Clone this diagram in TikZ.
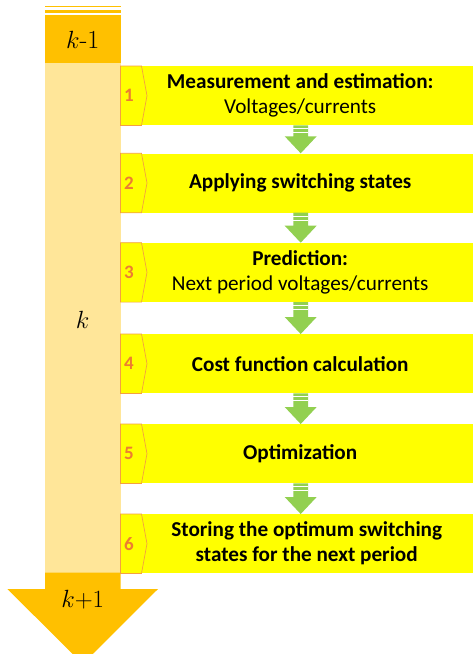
\documentclass[tikz,border=0pt]{standalone}
\usepackage{fontspec}
\setmainfont{Carlito}
\usetikzlibrary{calc}
\definecolor{kOrange}{HTML}{FFC000}
\definecolor{kLight}{HTML}{FFE699}
\definecolor{boxYellow}{HTML}{FFFF00}
\definecolor{numOrange}{HTML}{ED7D31}
\definecolor{chevLine}{HTML}{F4A040}
\definecolor{arrowGreen}{HTML}{92D050}
\newcommand{\lmtext}[1]{{\fontfamily{lmr}\selectfont #1}}
\tikzset{
  stepbox/.style={fill=boxYellow, draw=none, minimum width=352pt, minimum height=59pt, anchor=north west, inner sep=0pt},
  steptext/.style={align=center, font=\fontsize{21.2}{25}\selectfont, text=black, inner sep=0pt},
  numtext/.style={font=\fontsize{19}{21}\selectfont\bfseries, text=numOrange, inner sep=0pt},
  klabel/.style={font=\fontsize{26}{28}\selectfont, inner sep=0pt},
}
\begin{document}
\begin{tikzpicture}[x=1pt, y=-1pt]
\useasboundingbox (0,0) rectangle (472,654);
% left time column
\fill[kOrange] (45,5.7) rectangle (120.5,7.2);
\fill[kOrange] (45,10) rectangle (120.5,13.3);
\fill[kOrange] (45,14.7) rectangle (120.5,62.5);
\fill[kLight] (45,62.5) rectangle (120.5,573);
\fill[kOrange] (45,572.5) -- (120.5,572.5) -- (120.5,589) -- (158,589) -- (82.7,664) -- (7.4,589) -- (45,589) -- cycle;
\node[klabel] (km1) at (82.7,40) {$k$\lmtext{-1}};
\node[klabel] (k) at (82.7,320) {$k$};
\node[klabel] (kp1) at (82.7,600) {$k{+}1$};
% step boxes
\foreach \i/\y in {1/66,2/153.3,3/242.7,4/334,5/424,6/514}{
  \node[stepbox] (b\i) at (120.5,\y) {};
  \filldraw[fill=boxYellow, draw=chevLine, line width=0.7pt]
    (b\i.north west) -- ++(21,0) -- ($(b\i.west)+(26.5,0)$) -- ($(b\i.south west)+(21,0)$) -- (b\i.south west) -- cycle;
  \node[numtext] (n\i) at ($(b\i.west)+(8.5,0)$) {\i};
}
\node[steptext] (t1) at ($(b1.center)+(3.5,0)$) {\textbf{Measurement and estimation:}\\Voltages/currents};
\node[steptext] (t2) at ($(b2.center)+(3.5,0)$) {\textbf{Applying switching states}};
\node[steptext] (t3) at ($(b3.center)+(3.5,0)$) {\textbf{Prediction:}\\Next period voltages/currents};
\node[steptext] (t4) at ($(b4.center)+(3.5,0)$) {\textbf{Cost function calculation}};
\node[steptext] (t5) at ($(b5.center)+(3.5,0)$) {\textbf{Optimization}};
\node[steptext] (t6) at ($(b6.center)+(10,0)$) {\textbf{Storing the optimum switching}\\\textbf{states for the next period}};
% green arrows
\foreach \a/\b in {1/2,2/3,3/4,4/5,5/6}{
  \coordinate (s\a) at ($(b\a.south)+(4,0)$);
  \coordinate (e\a) at ($(b\b.north)+(4,0)$);
  \fill[arrowGreen] ($(s\a)+(-7.3,0)$) -- ($(s\a)+(7.3,0)$) -- ($(e\a)+(7.3,-17)$) -- ($(e\a)+(16,-17)$) -- (e\a) -- ($(e\a)+(-16,-17)$) -- ($(e\a)+(-7.3,-17)$) -- cycle;
  \draw[white, line width=0.8pt] ($(s\a)+(-7.3,3.2)$) -- ($(s\a)+(7.3,3.2)$);
  \draw[white, line width=0.8pt] ($(s\a)+(-7.3,7.2)$) -- ($(s\a)+(7.3,7.2)$);
}
\end{tikzpicture}
\end{document}
